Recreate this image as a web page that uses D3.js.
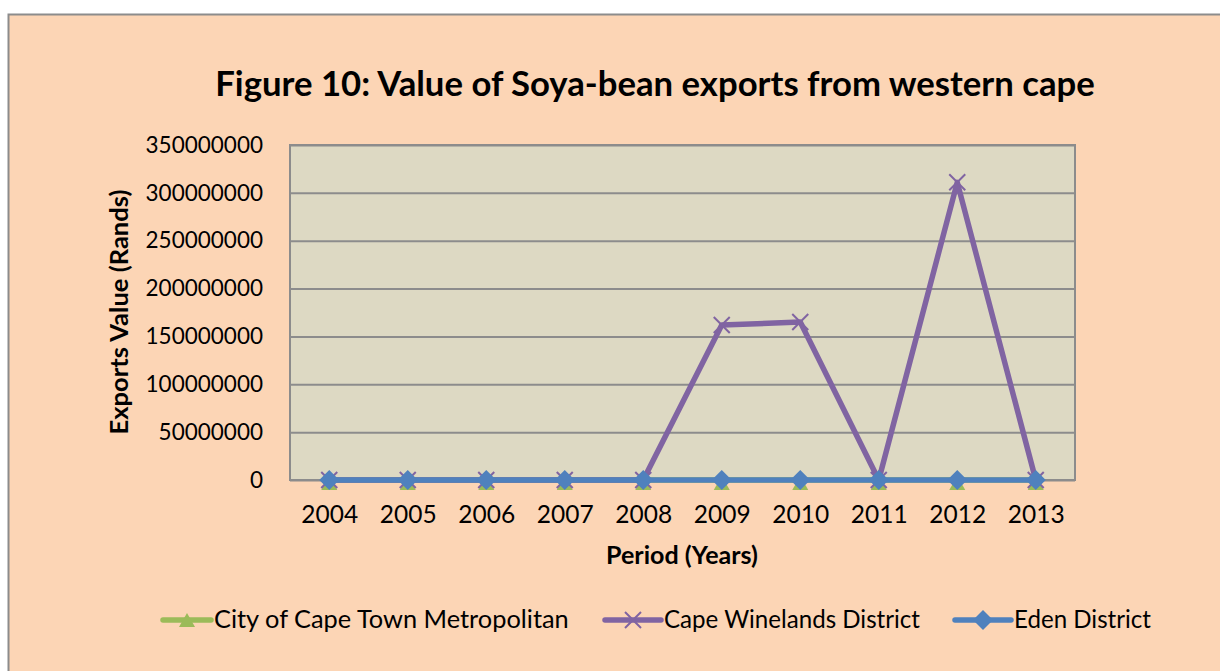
<!DOCTYPE html>
<html>
<head>
<meta charset="utf-8">
<script src="https://cdn.jsdelivr.net/npm/d3@7"></script>
<style>
  body { margin: 0; background: #ffffff; }
  svg { display: block; font-family: Lato, "Open Sans", sans-serif; }
  .grid line { stroke: #8c8c8c; stroke-width: 2px; }
  .grid .domain { display: none; }
  .xaxis .domain { display: none; }
  .xaxis line { display: none; }
</style>
</head>
<body>
<svg width="1220" height="671"></svg>
<script>
// values
var years = ["2004", "2005", "2006", "2007", "2008", "2009", "2010", "2011", "2012", "2013"];
var cityCapeTown = [0, 0, 0, 0, 0, 0, 0, 0, 0, 0];
var capeWinelands = [0, 0, 0, 0, 0, 162000000, 165000000, 0, 311000000, 0];
var edenDistrict = [0, 0, 0, 0, 0, 0, 0, 0, 0, 0];
var yTicks = [0, 50000000, 100000000, 150000000, 200000000, 250000000, 300000000, 350000000];

var seriesNames = ["City of Cape Town Metropolitan", "Cape Winelands District", "Eden District"];
var colors = ["#9bbb59", "#8064a2", "#4f81bd"];
var symbolsUsed = ["triangle", "x", "diamond"];

var svg = d3.select("svg");

var plot = { left: 290, top: 145, right: 1075, bottom: 480 };

var x = d3.scalePoint()
  .domain(years)
  .range([plot.left, plot.right])
  .padding(0.5);

var y = d3.scaleLinear()
  .domain([0, 350000000])
  .range([plot.bottom, plot.top]);

// shrink or grow a text node so it fills the width measured on the reference
function fit(sel, width) {
  var size = parseFloat(sel.attr("font-size"));
  var w = sel.node().getComputedTextLength();
  sel.attr("font-size", size * width / w);
}

// outer chart frame
svg.append("rect")
  .attr("x", 8.5).attr("y", 14.5)
  .attr("width", 1240).attr("height", 700)
  .attr("fill", "#fcd5b5")
  .attr("stroke", "#8c8c8c")
  .attr("stroke-width", 2);

// plot area
svg.append("rect")
  .attr("x", plot.left).attr("y", plot.top)
  .attr("width", plot.right - plot.left)
  .attr("height", plot.bottom - plot.top)
  .attr("fill", "#ddd9c3")
  .attr("stroke", "#8c8c8c")
  .attr("stroke-width", 2);

// gridlines + y labels
var yAxis = svg.append("g")
  .attr("class", "grid")
  .attr("transform", "translate(" + plot.left + ",0)")
  .call(d3.axisLeft(y)
    .tickValues(yTicks)
    .tickSize(-(plot.right - plot.left))
    .tickPadding(27)
    .tickFormat(d3.format("d")));

yAxis.selectAll("text")
  .attr("font-size", 22.5)
  .attr("font-family", "Lato, sans-serif")
  .attr("fill", "#000");

var xAxis = svg.append("g")
  .attr("class", "xaxis")
  .attr("transform", "translate(0," + plot.bottom + ")")
  .call(d3.axisBottom(x).tickSize(0).tickPadding(26));

xAxis.selectAll("text")
  .attr("font-size", 24.5)
  .attr("font-family", "Lato, sans-serif")
  .attr("fill", "#000");

// marker shapes
function markerPath(kind) {
  if (kind === "triangle") return "M0,-8L8,6L-8,6Z";
  if (kind === "x") return "M-8,-8L8,8M-8,8L8,-8";
  return "M0,-10L10,0L0,10L-10,0Z";
}

function drawMarker(g, kind, color, cx, cy) {
  var p = g.append("path")
    .attr("d", markerPath(kind))
    .attr("transform", "translate(" + cx + "," + cy + ")");
  if (kind === "x") {
    p.attr("fill", "none").attr("stroke", color).attr("stroke-width", 2);
  } else {
    p.attr("fill", color);
  }
}

var line = d3.line()
  .x(function(d, i) { return x(years[i]); })
  .y(function(d) { return y(d); });

var allSeries = [cityCapeTown, capeWinelands, edenDistrict];

var lines = svg.append("g").attr("id", "lines");
allSeries.forEach(function(vals, s) {
  var g = lines.append("g");
  g.append("path")
    .datum(vals)
    .attr("d", line)
    .attr("fill", "none")
    .attr("stroke", colors[s])
    .attr("stroke-width", 5.5)
    .attr("stroke-linejoin", "round");
  vals.forEach(function(v, i) {
    var dy = symbolsUsed[s] === "triangle" ? 4 : 0;
    drawMarker(g, symbolsUsed[s], colors[s], x(years[i]), y(v) + dy);
  });
});

// title
var title = svg.append("text")
  .attr("x", 655)
  .attr("y", 96)
  .attr("text-anchor", "middle")
  .attr("font-size", 30)
  .attr("font-weight", "bold")
  .text("Figure 10: Value of Soya-bean exports from western cape");
fit(title, 880);

// axis titles
var ytitle = svg.append("text")
  .attr("transform", "translate(128,312) rotate(-90)")
  .attr("text-anchor", "middle")
  .attr("font-size", 21)
  .attr("font-weight", "bold")
  .text("Exports Value (Rands)");
fit(ytitle, 245);

var xtitle = svg.append("text")
  .attr("x", 682)
  .attr("y", 564)
  .attr("text-anchor", "middle")
  .attr("font-size", 21)
  .attr("font-weight", "bold")
  .text("Period (Years)");
fit(xtitle, 152);

// legend
var legendPos = [
  { x0: 163, x1: 211, w: 355 },
  { x0: 605, x1: 661, w: 256 },
  { x0: 955, x1: 1011, w: 137 }
];
var legend = svg.append("g").attr("id", "legend");
seriesNames.forEach(function(name, s) {
  var p = legendPos[s];
  var ly = 620;
  legend.append("line")
    .attr("x1", p.x0).attr("x2", p.x1)
    .attr("y1", ly).attr("y2", ly)
    .attr("stroke", colors[s])
    .attr("stroke-width", 5.5)
    .attr("stroke-linecap", "round");
  drawMarker(legend, symbolsUsed[s], colors[s], (p.x0 + p.x1) / 2, ly + (s === 0 ? 1 : 0));
  var t = legend.append("text")
    .attr("x", p.x1 + 3)
    .attr("y", ly + 8)
    .attr("font-size", 22.5)
    .text(name);
  fit(t, p.w);
});
</script>
</body>
</html>
